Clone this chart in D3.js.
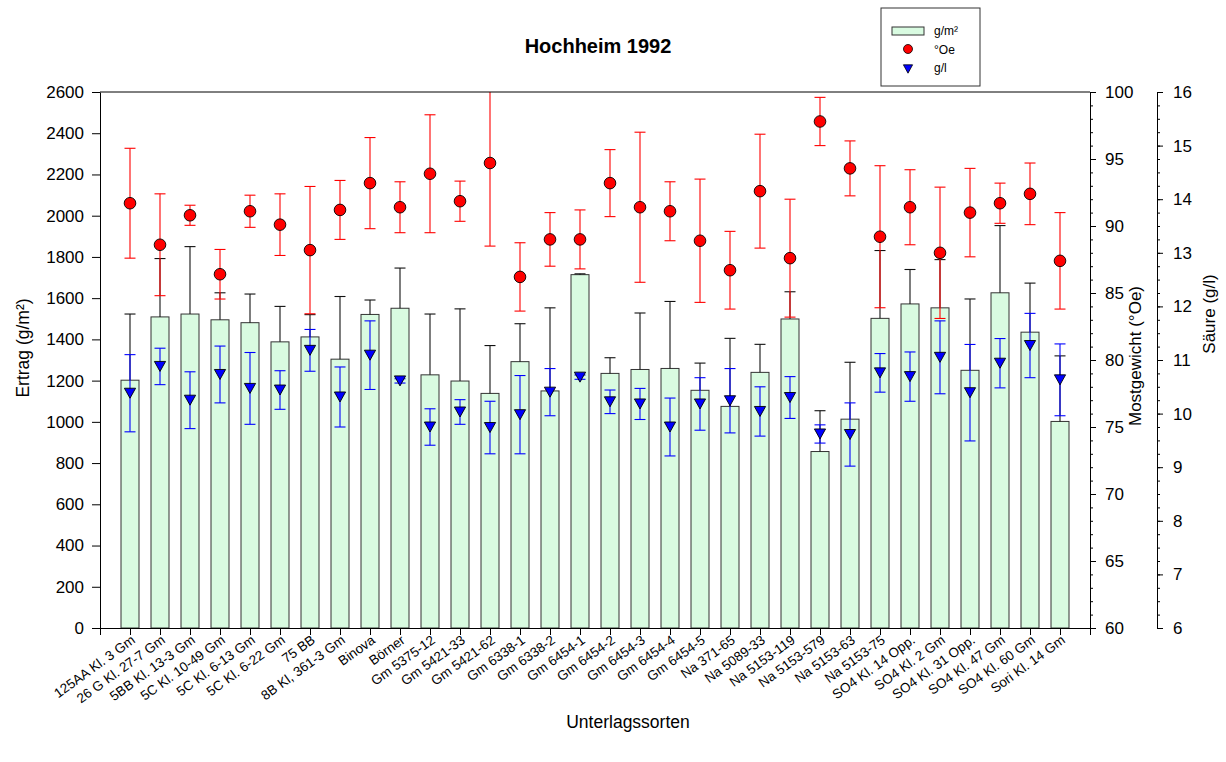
<!DOCTYPE html>
<html>
<head>
<meta charset="utf-8">
<script src="https://cdn.jsdelivr.net/npm/d3@7/dist/d3.min.js"></script>
<style>
  html, body { margin: 0; padding: 0; background: #fff; }
  svg { display: block; font-family: "Liberation Sans", Arial, sans-serif; }
</style>
</head>
<body>
<svg id="chart" width="1226" height="762"></svg>
<script>
// Rootstock trial Hochheim 1992: yield, must weight and acidity per rootstock
const categories = [
  "125AA Kl. 3 Gm", "26 G Kl. 27-7 Gm", "5BB Kl. 13-3 Gm", "5C Kl. 10-49 Gm",
  "5C Kl. 6-13 Gm", "5C Kl. 6-22 Gm", "75 BB", "8B Kl, 361-3 Gm", "Binova", "Börner",
  "Gm 5375-12", "Gm 5421-33", "Gm 5421-62", "Gm 6338-1", "Gm 6338-2", "Gm 6454-1",
  "Gm 6454-2", "Gm 6454-3", "Gm 6454-4", "Gm 6454-5", "Na 371-65", "Na 5089-33",
  "Na 5153-119", "Na 5153-579", "Na 5153-63", "Na 5153-75", "SO4 Kl. 14 Opp.",
  "SO4 Kl. 2 Gm", "SO4 Kl. 31 Opp.", "SO4 Kl. 47 Gm", "SO4 Kl. 60 Gm", "Sori Kl. 14 Gm"
];

// Ertrag (g/m²) with standard deviation
const ertrag = [1202, 1509, 1523, 1495, 1481, 1388, 1412, 1304, 1521, 1551, 1228, 1198, 1138,
  1292, 1150, 1714, 1235, 1254, 1259, 1153, 1075, 1240, 1499, 856, 1013, 1502, 1572, 1553,
  1250, 1626, 1435, 1002];
const ertragSd = [321, 283, 327, 131, 139, 172, 108, 304, 70, 195, 295, 350, 232,
  184, 403, 4, 76, 274, 325, 132, 330, 136, 132, 198, 276, 329, 167, 234,
  346, 326, 238, 318];

// Mostgewicht (°Oe) with standard deviation
const oechsle = [91.7, 88.6, 90.8, 86.4, 91.1, 90.1, 88.2, 91.2, 93.2, 91.4, 93.9, 91.85, 94.7,
  86.2, 89.0, 89.0, 93.2, 91.4, 91.1, 88.9, 86.7, 92.6, 87.6, 97.8, 94.3, 89.2, 91.4, 88.0,
  91.0, 91.7, 92.4, 87.4];
const oechsleSd = [4.1, 3.8, 0.75, 1.85, 1.2, 2.3, 4.75, 2.2, 3.4, 1.9, 4.4, 1.5, 6.2,
  2.55, 2.0, 2.2, 2.5, 5.6, 2.2, 4.6, 2.9, 4.25, 4.4, 1.8, 2.05, 5.3, 2.8, 4.9,
  3.3, 1.5, 2.3, 3.6];

// Säure (g/l) with standard deviation
const saeure = [10.38, 10.88, 10.25, 10.73, 10.47, 10.44, 11.18, 10.31, 11.09, 10.61, 9.75, 10.03, 9.74,
  9.98, 10.40, 10.68, 10.22, 10.18, 9.75, 10.18, 10.24, 10.04, 10.30, 9.62, 9.61, 10.76, 10.69, 11.05,
  10.39, 10.94, 11.27, 10.63];
const saeureSd = [0.72, 0.34, 0.53, 0.53, 0.67, 0.36, 0.39, 0.56, 0.64, 0.04, 0.34, 0.23, 0.49,
  0.73, 0.44, 0.04, 0.22, 0.29, 0.54, 0.49, 0.60, 0.46, 0.39, 0.17, 0.59, 0.36, 0.46, 0.68,
  0.90, 0.46, 0.60, 0.67];

const ertragTicks = d3.range(0, 2601, 200);
const oechsleTicks = d3.range(60, 101, 5);
const saeureTicks = d3.range(6, 17, 1);

const legendItems = ["g/m²", "°Oe", "g/l"];

const rows = categories.map((c, i) => ({
  name: c, pos: i + 1,
  e: ertrag[i], eSd: ertragSd[i],
  o: oechsle[i], oSd: oechsleSd[i],
  s: saeure[i], sSd: saeureSd[i]
}));

const svg = d3.select("#chart");
const L = 100, R = 1090, T = 92, B = 628;

const x = d3.scaleLinear().domain([0, categories.length + 1]).range([L, R]);
const y = d3.scaleLinear().domain([0, 2600]).range([B, T]);
const yOe = d3.scaleLinear().domain([60, 100]).range([B, T]);
const ySa = d3.scaleLinear().domain([6, 16]).range([B, T]);

const barW = x(0.6) - x(0);
const cap = 5.5;

svg.append("defs").append("clipPath").attr("id", "plotClip")
  .append("rect").attr("x", L).attr("y", T).attr("width", R - L).attr("height", B - T);

const plot = svg.append("g").attr("clip-path", "url(#plotClip)");

// bars
plot.selectAll("rect.bar").data(rows).join("rect")
  .attr("class", "bar")
  .attr("x", d => x(d.pos) - barW / 2)
  .attr("y", d => y(d.e))
  .attr("width", barW)
  .attr("height", d => y(0) - y(d.e))
  .attr("fill", "#d9fbe1")
  .attr("stroke", "#333")
  .attr("stroke-width", 1);

// upper error bars of the yield
const eErr = plot.append("g").attr("stroke", "#111").attr("stroke-width", 1.1);
rows.forEach(d => {
  const cx = x(d.pos), y0 = y(d.e), y1 = y(d.e + d.eSd);
  eErr.append("line").attr("x1", cx).attr("x2", cx).attr("y1", y0).attr("y2", y1);
  eErr.append("line").attr("x1", cx - cap).attr("x2", cx + cap).attr("y1", y1).attr("y2", y1);
});

// must weight error bars and markers
const oErr = plot.append("g").attr("stroke", "#ff0000").attr("stroke-width", 1.1);
rows.forEach(d => {
  const cx = x(d.pos), ya = yOe(d.o + d.oSd), yb = yOe(d.o - d.oSd);
  oErr.append("line").attr("x1", cx).attr("x2", cx).attr("y1", ya).attr("y2", yb);
  oErr.append("line").attr("x1", cx - cap).attr("x2", cx + cap).attr("y1", ya).attr("y2", ya);
  oErr.append("line").attr("x1", cx - cap).attr("x2", cx + cap).attr("y1", yb).attr("y2", yb);
});
plot.selectAll("circle.oe").data(rows).join("circle")
  .attr("class", "oe")
  .attr("cx", d => x(d.pos)).attr("cy", d => yOe(d.o)).attr("r", 5.8)
  .attr("fill", "#ff0000").attr("stroke", "#000").attr("stroke-width", 0.9);

// acidity error bars and markers
const sErr = plot.append("g").attr("stroke", "#0000ff").attr("stroke-width", 1.1);
rows.forEach(d => {
  const cx = x(d.pos), ya = ySa(d.s + d.sSd), yb = ySa(d.s - d.sSd);
  sErr.append("line").attr("x1", cx).attr("x2", cx).attr("y1", ya).attr("y2", yb);
  sErr.append("line").attr("x1", cx - cap).attr("x2", cx + cap).attr("y1", ya).attr("y2", ya);
  sErr.append("line").attr("x1", cx - cap).attr("x2", cx + cap).attr("y1", yb).attr("y2", yb);
});
const tri = (w, h) => `M${-w},${-h}L${w},${-h}L0,${h}Z`;
plot.selectAll("path.sa").data(rows).join("path")
  .attr("class", "sa")
  .attr("transform", d => `translate(${x(d.pos)},${ySa(d.s)})`)
  .attr("d", tri(5.6, 5))
  .attr("fill", "#0000ff").attr("stroke", "#000").attr("stroke-width", 0.9);

// axes
const axisStyle = g => {
  g.selectAll(".domain").attr("stroke", "#000").attr("stroke-width", 1);
  g.selectAll(".tick line").attr("stroke", "#000").attr("stroke-width", 1);
  g.selectAll(".tick text").attr("fill", "#000").style("font-size", "17px")
    .style("font-family", "'Liberation Sans', Arial, sans-serif");
};

// top frame line
svg.append("line").attr("x1", L).attr("x2", R).attr("y1", T).attr("y2", T)
  .attr("stroke", "#000").attr("stroke-width", 1);

svg.append("g").attr("transform", `translate(${L},0)`)
  .call(d3.axisLeft(y).tickValues(ertragTicks).tickFormat(d3.format("d"))
    .tickSize(8).tickSizeOuter(0).tickPadding(8))
  .call(axisStyle);

svg.append("g").attr("transform", `translate(0,${B})`)
  .call(d3.axisBottom(x).tickValues(d3.range(0, categories.length + 2)).tickFormat("")
    .tickSize(7).tickSizeOuter(0))
  .call(axisStyle);

// Mostgewicht axis with minor ticks
svg.append("g").attr("transform", `translate(${R},0)`)
  .call(d3.axisRight(yOe).tickValues(d3.range(60, 101, 1)).tickFormat("").tickSize(3).tickSizeOuter(0))
  .call(axisStyle);
svg.append("g").attr("transform", `translate(${R},0)`)
  .call(d3.axisRight(yOe).tickValues(oechsleTicks).tickSize(6).tickSizeOuter(0).tickPadding(9))
  .call(axisStyle);

// Säure axis with minor ticks
const xSa = 1157;
svg.append("g").attr("transform", `translate(${xSa},0)`)
  .call(d3.axisRight(ySa).tickValues(d3.range(6, 16.01, 0.25)).tickFormat("").tickSize(3).tickSizeOuter(0))
  .call(axisStyle);
svg.append("g").attr("transform", `translate(${xSa},0)`)
  .call(d3.axisRight(ySa).tickValues(saeureTicks).tickSize(6).tickSizeOuter(0).tickPadding(10))
  .call(axisStyle);

// category labels
svg.append("g").selectAll("text").data(rows).join("text")
  .attr("transform", d => `translate(${x(d.pos) + 6},${B + 14}) rotate(-36)`)
  .attr("text-anchor", "end")
  .style("font-size", "13.5px")
  .attr("fill", "#000")
  .text(d => d.name);

// titles
svg.append("text").attr("x", 598).attr("y", 53).attr("text-anchor", "middle")
  .style("font-size", "20px").style("font-weight", "bold").text("Hochheim 1992");

svg.append("text").attr("x", 628).attr("y", 728).attr("text-anchor", "middle")
  .style("font-size", "17.5px").text("Unterlagssorten");

svg.append("text").attr("transform", "translate(29,348) rotate(-90)").attr("text-anchor", "middle")
  .style("font-size", "17.5px").text("Ertrag (g/m²)");

svg.append("text").attr("transform", "translate(1141,356) rotate(-90)").attr("text-anchor", "middle")
  .style("font-size", "17px").text("Mostgewicht (°Oe)");

svg.append("text").attr("transform", "translate(1215,314) rotate(-90)").attr("text-anchor", "middle")
  .style("font-size", "17px").text("Säure (g/l)");

// legend
const lg = svg.append("g");
lg.append("rect").attr("x", 881).attr("y", 8).attr("width", 99).attr("height", 78)
  .attr("fill", "#fff").attr("stroke", "#333").attr("stroke-width", 1);
lg.append("rect").attr("x", 892).attr("y", 27).attr("width", 32).attr("height", 8)
  .attr("fill", "#d9fbe1").attr("stroke", "#333");
lg.append("circle").attr("cx", 908).attr("cy", 49).attr("r", 4.5)
  .attr("fill", "#ff0000").attr("stroke", "#000").attr("stroke-width", 0.8);
lg.append("path").attr("transform", "translate(908,69)").attr("d", tri(4.6, 4.2))
  .attr("fill", "#0000ff").attr("stroke", "#000").attr("stroke-width", 0.8);
lg.selectAll("text").data(legendItems).join("text")
  .attr("x", 934).attr("y", (d, i) => 35 + i * 18.5)
  .style("font-size", "12px").text(d => d);
</script>
</body>
</html>
